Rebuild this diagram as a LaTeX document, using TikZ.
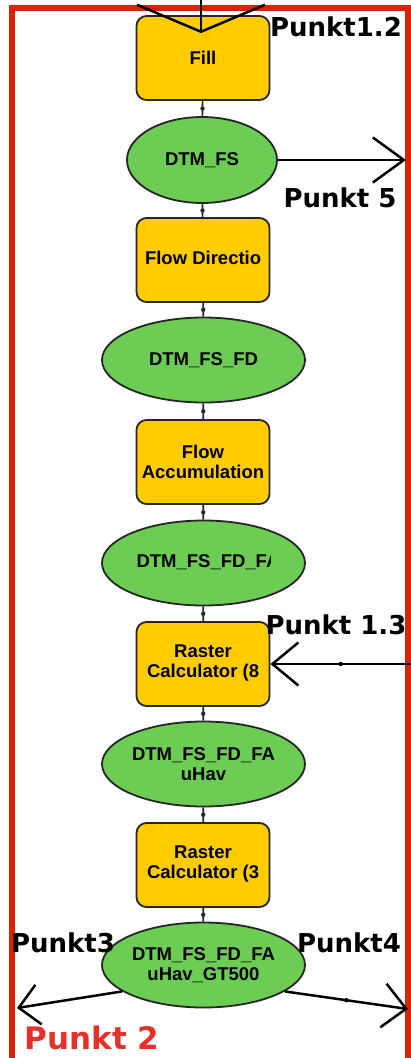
\documentclass[tikz,border=0pt]{standalone}
\usepackage{fontspec}
\setmainfont{Liberation Sans}
\newfontfamily\lblfont{DejaVu Sans}
\usetikzlibrary{shapes.geometric,arrows.meta,decorations.markings}
\definecolor{boxyellow}{HTML}{FFCC00}
\definecolor{ovalgreen}{HTML}{6CCC54}
\definecolor{framered}{HTML}{DD2200}
\definecolor{lblred}{HTML}{E8302A}
\newcommand{\nodefnt}{\bfseries\fontsize{18.5}{20}\selectfont}
\newcommand{\cliptxt}[2]{\tikz[baseline=(cliptx.base)]{\useasboundingbox (0pt,-5pt) rectangle (#1,14pt); \path[clip, draw=none, fill=none] (0pt,-8pt) rectangle (#1,20pt); \node[rectangle, minimum width=0pt, minimum height=0pt, draw=none, fill=none, inner sep=0pt, outer sep=0pt, align=left, anchor=base west, text=black] (cliptx) at (0pt,0pt) {#2};}}
\begin{document}
\begin{tikzpicture}[x=1pt,y=1pt,
  proc/.style={rectangle, rounded corners=10pt, draw=black!85, line width=1.8pt, fill=boxyellow, minimum width=133pt, minimum height=84pt, inner sep=0pt, align=center, font=\nodefnt},
  data/.style={ellipse, draw=black!85, line width=1.8pt, fill=ovalgreen, minimum width=203pt, minimum height=85pt, inner sep=0pt, align=center, font=\nodefnt},
  midmark/.style={postaction={decorate}, decoration={markings, mark=at position .5 with {\fill (0,0) circle (2.2pt);}}},
  conn/.style={line width=1.6pt, black!85, midmark},
  barbarrow/.style 2 args={-{Straight Barb[length=#1pt,width=#2pt]}, line width=2.5pt, black},
  lbl/.style={font=\lblfont\bfseries\fontsize{26}{28}\selectfont, inner sep=0pt, text=black}]
\clip (0,0) rectangle (411,-1058);
\fill[white] (0,0) rectangle (411,-1058);
\draw[framered, line width=6pt] (12,-8) rectangle (407.5,-1064);

\node[proc] (fill) at (203,-58) {Fill};
\node[data, minimum width=150pt, minimum height=86pt] (dtmfs) at (202,-160) {DTM\_FS};
\node[proc] (fdir) at (203,-260) {\cliptxt{116pt}{Flow Direction}};
\node[data] (dtmfd) at (203.5,-360) {DTM\_FS\_FD};
\node[proc] (facc) at (203,-462) {Flow\\Accumulation};
\node[data] (dtmfa) at (203.5,-563) {\cliptxt{134pt}{DTM\_FS\_FD\_FA}};
\node[proc] (rc8) at (203,-664) {Raster\\\cliptxt{112pt}{Calculator (8)}};
\node[data] (uhav) at (203.5,-764) {DTM\_FS\_FD\_FA\\uHav};
\node[proc] (rc3) at (203,-865) {Raster\\\cliptxt{112pt}{Calculator (3)}};
\node[data] (gt) at (203.5,-965) {DTM\_FS\_FD\_FA\\uHav\_GT500};

\draw[conn] (fill) -- (dtmfs);
\draw[conn] (dtmfs) -- (fdir);
\draw[conn] (fdir) -- (dtmfd);
\draw[conn] (dtmfd) -- (facc);
\draw[conn] (facc) -- (dtmfa);
\draw[conn] (dtmfa) -- (rc8);
\draw[conn] (rc8) -- (uhav);
\draw[conn] (uhav) -- (rc3);
\draw[conn] (rc3) -- (gt);

\coordinate (topin) at (201,0);
\draw[barbarrow={27}{128}] (topin) -- ([xshift=-2pt,yshift=-18pt]fill.north);
\coordinate (out5) at (406,-160);
\draw[barbarrow={31}{45}] (dtmfs) -- (out5);
\coordinate (in13) at (411,-664);
\draw[barbarrow={26}{43}, midmark] (in13) -- (rc8);
\coordinate (out3) at (17,-1008);
\coordinate (out4) at (408,-1009);
\draw[barbarrow={20}{40}] (gt.198) -- (out3);
\draw[barbarrow={23}{44}, midmark] (gt.342) -- (out4);

\node[lbl] (p12) at (336,-27) {Punkt1.2};
\node[lbl] (p5) at (340,-198) {Punkt 5};
\node[lbl] (p13) at (336,-625) {Punkt 1.3};
\node[lbl] (p3) at (63,-943) {Punkt3};
\node[lbl] (p4) at (349,-943) {Punkt4};
\node[lbl, text=lblred, font=\lblfont\bfseries\fontsize{31}{33}\selectfont] (p2) at (92,-1038) {Punkt 2};
\end{tikzpicture}
\end{document}
